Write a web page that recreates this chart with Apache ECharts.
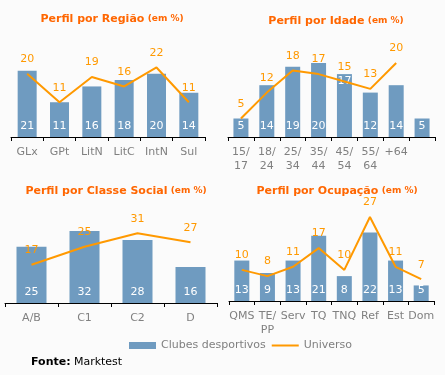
<!DOCTYPE html>
<html>
<head>
<meta charset="utf-8">
<script src="https://cdn.jsdelivr.net/npm/echarts@6/dist/echarts.min.js"></script>
<style>
  html, body { margin: 0; padding: 0; background: #fbfbfb; }
  #chart { width: 445px; height: 375px; }
</style>
</head>
<body>
<div id="chart"></div>
<script>
// dados (em %)
const regiaoCats = ['GLx', 'GPt', 'LitN', 'LitC', 'IntN', 'Sul']
const regiaoClubes = [21, 11, 16, 18, 20, 14]
const regiaoUniverso = [20, 11, 19, 16, 22, 11]

const idadeCats = ['15/\n17', '18/\n24', '25/\n34', '35/\n44', '45/\n54', '55/\n64', '+64', '']
const idadeClubes = [5, 14, 19, 20, 17, 12, 14, 5]
const idadeUniverso = [5, 12, 18, 17, 15, 13, 20]

const classeCats = ['A/B', 'C1', 'C2', 'D']
const classeClubes = [25, 32, 28, 16]
const classeUniverso = [17, 25, 31, 27]

const ocupCats = ['QMS', 'TE/\nPP', 'Serv', 'TQ', 'TNQ', 'Ref', 'Est', 'Dom']
const ocupClubes = [13, 9, 13, 21, 8, 22, 13, 5]
const ocupUniverso = [10, 8, 11, 17, 10, 27, 11, 7]

const FONT = 'DejaVu Sans'
const BAR = '#6f9bc0'
const LINE = '#ff9900'
const TITLE = '#ff6600'

const chart = echarts.init(document.getElementById('chart'), null, { renderer: 'canvas' })

// posicao de cada painel
const panels = [
  { cats: regiaoCats, clubes: regiaoClubes, univ: regiaoUniverso, grid: { left: 11, width: 194, top: 58, height: 79 }, max: 25, barWidth: 19 },
  { cats: idadeCats, clubes: idadeClubes, univ: idadeUniverso, grid: { left: 228, width: 207, top: 63, height: 74 }, max: 20, barWidth: 15 },
  { cats: classeCats, clubes: classeClubes, univ: classeUniverso, grid: { left: 5, width: 212, top: 231, height: 72 }, max: 32, barWidth: 30 },
  { cats: ocupCats, clubes: ocupClubes, univ: ocupUniverso, grid: { left: 229, width: 205, top: 217, height: 84 }, max: 27, barWidth: 15 }
]

const titles = [
  { text: 'Perfil por Região', x: 112, y: 19 },
  { text: 'Perfil por Idade', x: 336, y: 21 },
  { text: 'Perfil por Classe Social', x: 116, y: 191 },
  { text: 'Perfil por Ocupação', x: 337, y: 191 }
]

const series = []
panels.forEach((p, i) => {
  series.push({
    name: 'Clubes desportivos',
    type: 'bar',
    xAxisIndex: i,
    yAxisIndex: i,
    barWidth: p.barWidth,
    itemStyle: { color: BAR },
    label: {
      show: true,
      position: 'insideBottom',
      distance: 5,
      color: '#fff',
      fontFamily: FONT,
      fontSize: 11
    },
    // no painel de idade o 17 aparece no topo da barra
    data: p.clubes.map((v, k) => (i === 1 && k === 4)
      ? { value: v, label: { position: 'insideTop', distance: 2 } }
      : v)
  })
  series.push({
    name: 'Universo',
    type: 'line',
    xAxisIndex: i,
    yAxisIndex: i,
    symbol: 'circle',
    symbolSize: 0,
    lineStyle: { color: LINE, width: 2 },
    itemStyle: { color: LINE },
    label: {
      show: true,
      position: 'top',
      distance: 9,
      color: LINE,
      fontFamily: FONT,
      fontSize: 11
    },
    data: p.univ
  })
})

chart.setOption({
  animation: false,
  backgroundColor: '#fbfbfb',
  grid: panels.map(p => Object.assign({}, p.grid)),
  xAxis: panels.map((p, i) => ({
    type: 'category',
    gridIndex: i,
    data: p.cats,
    axisLine: { lineStyle: { color: '#000', width: 1 } },
    axisTick: { show: true, length: 4, lineStyle: { color: '#000' } },
    axisLabel: {
      color: '#808080',
      fontFamily: FONT,
      fontSize: 11,
      lineHeight: 14,
      margin: 8,
      interval: 0
    }
  })),
  yAxis: panels.map((p, i) => ({
    type: 'value',
    gridIndex: i,
    min: 0,
    max: p.max,
    show: false
  })),
  legend: {
    left: 124,
    top: 335,
    itemWidth: 27,
    itemHeight: 7,
    itemGap: 5,
    textStyle: { color: '#808080', fontFamily: FONT, fontSize: 11 },
    data: [
      { name: 'Clubes desportivos', icon: 'rect' },
      { name: 'Universo', itemStyle: { opacity: 0 } }
    ]
  },
  graphic: titles.map(t => ({
    type: 'text',
    x: t.x,
    y: t.y,
    style: {
      text: '{a|' + t.text + '} {b|(em %)}',
      align: 'center',
      verticalAlign: 'middle',
      rich: {
        a: { fontFamily: FONT, fontWeight: 'bold', fontSize: 11, fill: TITLE },
        b: { fontFamily: FONT, fontWeight: 'bold', fontSize: 9, fill: TITLE }
      }
    }
  })).concat([{
    type: 'text',
    x: 31,
    y: 362,
    style: {
      text: '{a|Fonte:} {b|Marktest}',
      verticalAlign: 'middle',
      rich: {
        a: { fontFamily: FONT, fontWeight: 'bold', fontSize: 11, fill: '#000' },
        b: { fontFamily: FONT, fontSize: 11, fill: '#000' }
      }
    }
  }]),
  series: series
})
</script>
</body>
</html>
